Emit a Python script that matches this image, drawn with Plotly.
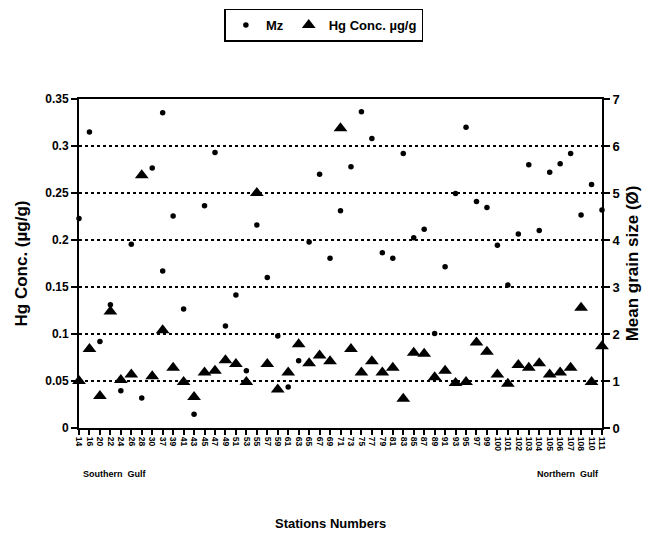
import plotly.graph_objects as go

stations = ["14", "16", "20", "22", "24", "26", "28", "30", "37", "39",
            "41", "43", "45", "47", "49", "51", "53", "55", "57", "59",
            "61", "63", "65", "67", "69", "71", "73", "75", "77", "79",
            "81", "83", "85", "87", "89", "91", "93", "95", "97", "99",
            "100", "101", "102", "103", "104", "105", "106", "107", "108", "110", "111"]

hg_conc = [0.050, 0.084, 0.034, 0.124, 0.051, 0.057, 0.269, 0.055, 0.104, 0.064,
           0.049, 0.033, 0.059, 0.061, 0.072, 0.068, 0.049, 0.250, 0.068, 0.041,
           0.059, 0.089, 0.069, 0.077, 0.071, 0.319, 0.084, 0.059, 0.071, 0.059,
           0.064, 0.031, 0.080, 0.079, 0.054, 0.061, 0.048, 0.049, 0.091, 0.081,
           0.057, 0.047, 0.067, 0.064, 0.069, 0.057, 0.059, 0.064, 0.128, 0.049,
           0.087]

mz = [4.46, 6.30, 1.84, 2.62, 0.79, 3.91, 0.64, 5.53, 6.71, 4.51,
      2.53, 0.29, 4.73, 5.86, 2.17, 2.83, 1.22, 4.32, 3.20, 1.96,
      0.87, 1.43, 3.96, 5.40, 3.61, 4.62, 5.56, 6.73, 6.16, 3.73,
      3.61, 5.84, 4.05, 4.23, 2.01, 3.43, 4.99, 6.40, 4.82, 4.69,
      3.89, 3.04, 4.13, 5.60, 4.20, 5.44, 5.62, 5.84, 4.53, 5.18,
      4.64]

mz_extra_station = ["37"]
mz_extra_value = [3.34]

FONT = "Liberation Sans, Arial, sans-serif"

fig = go.Figure()
fig.add_trace(go.Scatter(
    x=stations + mz_extra_station, y=mz + mz_extra_value, yaxis="y2",
    mode="markers", name="<b>Mz</b>",
    marker=dict(symbol="circle", size=5.5, color="black"),
    cliponaxis=False,
))
fig.add_trace(go.Scatter(
    x=stations, y=hg_conc, yaxis="y",
    mode="markers", name="<b>Hg Conc. µg/g</b>",
    marker=dict(symbol="triangle-up", size=12, color="black"),
    cliponaxis=False,
))

fig.update_layout(
    width=646, height=534,
    margin=dict(l=71, r=52, t=91, b=114, autoexpand=False),
    paper_bgcolor="white", plot_bgcolor="white",
    font=dict(family=FONT, color="black"),
    showlegend=True,
    legend=dict(orientation="h", xref="container", yref="container",
                x=0.489, xanchor="center", y=0.999, yanchor="top",
                bordercolor="black", borderwidth=1.5, bgcolor="white",
                font=dict(size=13, family=FONT), itemsizing="trace",
                itemwidth=30),
    xaxis=dict(
        type="category", categoryorder="array", categoryarray=stations,
        range=[0, len(stations) - 1],
        showline=True, linecolor="black", linewidth=2, mirror=True,
        ticks="outside", ticklen=5, tickwidth=1.5, tickcolor="black",
        tickangle=90, tickfont=dict(size=8.5, family=FONT, weight="bold"),
        showgrid=False, zeroline=False,
    ),
    yaxis=dict(
        range=[0, 0.35], dtick=0.05, tick0=0,
        showline=True, linecolor="black", linewidth=2,
        ticks="outside", ticklen=6, tickwidth=1.5, tickcolor="black",
        tickfont=dict(size=12, family=FONT, weight="bold"),
        showgrid=True, gridcolor="black", griddash="dot", gridwidth=1.5,
        zeroline=False,
    ),
    yaxis2=dict(
        range=[0, 7], dtick=1, overlaying="y", side="right",
        showline=True, linecolor="black", linewidth=2,
        ticks="outside", ticklen=6, tickwidth=1.5, tickcolor="black",
        tickfont=dict(size=13, family=FONT, weight="bold"),
        showgrid=False, zeroline=False,
    ),
    annotations=[
        dict(text="<b>Hg Conc. (µg/g)</b>", xref="paper", yref="paper",
             x=-0.109, xanchor="center", y=0.5, yanchor="middle",
             textangle=-90, showarrow=False,
             font=dict(size=17, family=FONT)),
        dict(text="<b>Mean grain size (Ø)</b>", xref="paper", yref="paper",
             x=1.059, xanchor="center", y=0.5, yanchor="middle",
             textangle=-90, showarrow=False,
             font=dict(size=17, family=FONT)),
        dict(text="<b>Southern  Gulf</b>", xref="paper", yref="paper",
             x=0.004, xanchor="left", y=-0.14, yanchor="middle", showarrow=False,
             font=dict(size=9, family=FONT)),
        dict(text="<b>Northern  Gulf</b>", xref="paper", yref="paper",
             x=0.998, xanchor="right", y=-0.14, yanchor="middle", showarrow=False,
             font=dict(size=9, family=FONT)),
        dict(text="<b>Stations Numbers</b>", xref="paper", yref="paper",
             x=0.48, xanchor="center", y=-0.289, yanchor="middle", showarrow=False,
             font=dict(size=13, family=FONT)),
    ],
)

fig.write_html("out.html")
